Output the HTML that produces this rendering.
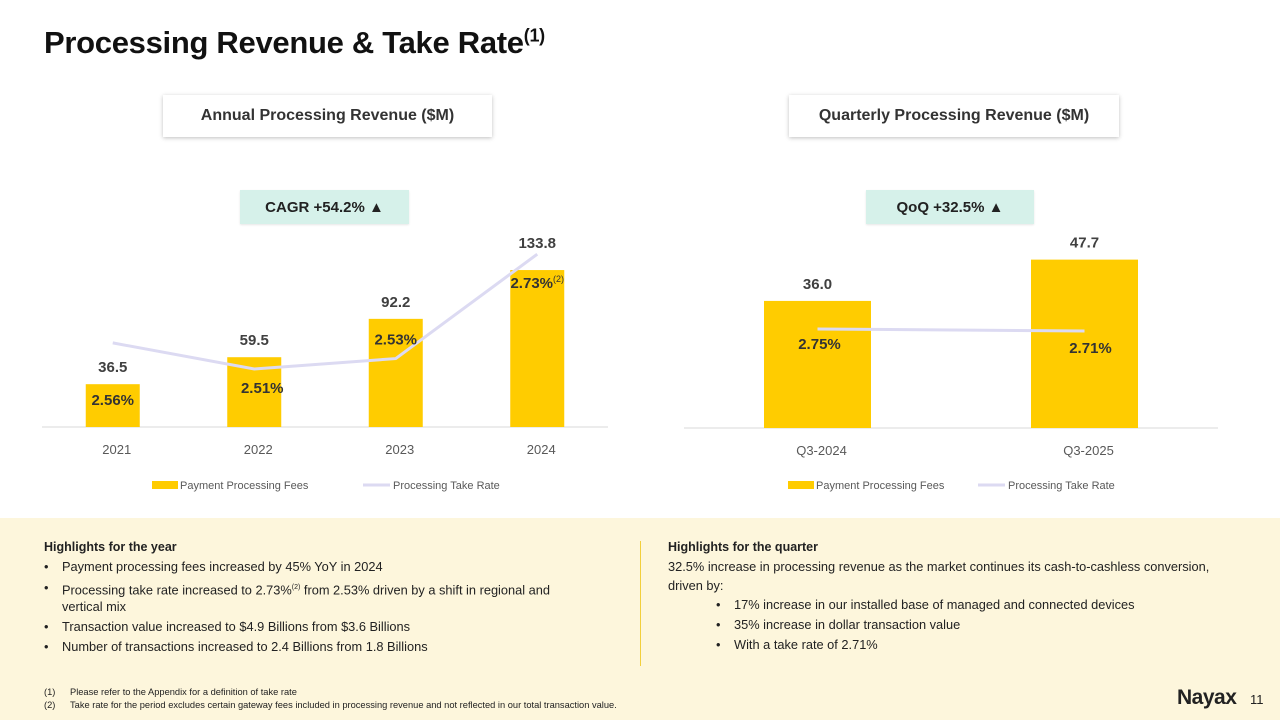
<!DOCTYPE html>
<html><head><meta charset="utf-8">
<style>
body{margin:0;width:1280px;height:720px;overflow:hidden;background:#fff;font-family:"Liberation Sans",sans-serif;position:relative;color:#262626}
.abs{position:absolute}
.title{left:44px;top:25px;font-size:31px;font-weight:bold;color:#111;letter-spacing:-0.3px}
.title sup{font-size:18px}
.sub{background:#fff;box-shadow:0 1px 4px rgba(0,0,0,0.25);font-weight:bold;font-size:16px;color:#333;display:flex;align-items:center;justify-content:center}
.badge{background:#d6f1ea;font-weight:bold;font-size:15px;color:#222;display:flex;align-items:center;justify-content:center;box-shadow:0 1px 2px rgba(0,0,0,0.1)}
.panel{left:0;top:518px;width:1280px;height:202px;background:#fdf6dc}
.hl{font-size:12.8px;line-height:20px;color:#222}
.hl b{font-size:12.5px}
.hl ul{margin:0;padding:0 0 0 18px;list-style:none}
.hl li{position:relative}
.hl li:before{content:"•";position:absolute;left:-18px}
.fn{font-size:9.3px;color:#222;line-height:13px}
.fn span{display:inline-block;width:26px}
</style></head><body>
<div class="abs title">Processing Revenue &amp; Take Rate<sup>(1)</sup></div>
<div class="abs sub" style="left:163px;top:95px;width:329px;height:42px">Annual Processing Revenue ($M)</div>
<div class="abs sub" style="left:789px;top:95px;width:330px;height:42px">Quarterly Processing Revenue ($M)</div>
<div class="abs badge" style="left:240px;top:190px;width:169px;height:34px">CAGR +54.2% ▲</div>
<div class="abs badge" style="left:866px;top:190px;width:168px;height:34px">QoQ +32.5% ▲</div>

<svg class="abs" style="left:0;top:0" width="1280" height="518">
<g id="left"></g>
<g id="right"></g>
</svg>

<div class="abs panel"></div>
<div class="abs hl" style="left:44px;top:537px;width:540px">
<b>Highlights for the year</b>
<ul>
<li>Payment processing fees increased by 45% YoY in 2024</li>
<li style="line-height:17px;padding:2px 0">Processing take rate increased to 2.73%<sup style="font-size:7px">(2)</sup> from 2.53% driven by a shift in regional and vertical mix</li>
<li>Transaction value increased to $4.9 Billions from $3.6 Billions</li>
<li>Number of transactions increased to 2.4 Billions from 1.8 Billions</li>
</ul></div>
<div class="abs" style="left:640px;top:541px;width:1px;height:125px;background:#f2cf3c"></div>
<div class="abs hl" style="left:668px;top:537px;width:575px">
<b>Highlights for the quarter</b>
<div style="line-height:19px">32.5% increase in processing revenue as the market continues its cash-to-cashless conversion, driven by:</div>
<ul style="padding-left:66px">
<li>17% increase in our installed base of managed and connected devices</li>
<li>35% increase in dollar transaction value</li>
<li>With a take rate of 2.71%</li>
</ul></div>
<div class="abs fn" style="left:44px;top:686px">
<div><span>(1)</span>Please refer to the Appendix for a definition of take rate</div>
<div><span>(2)</span>Take rate for the period excludes certain gateway fees included in processing revenue and not reflected in our total transaction value.</div>
</div>
<div class="abs" style="left:1177px;top:686px;font-size:21px;font-weight:bold;color:#222;letter-spacing:-0.5px">Nayax</div>
<div class="abs" style="left:1250px;top:692px;font-size:13px;color:#222">11</div>

<script>
const annualCats=["2021","2022","2023","2024"];
const annualFees=[36.5,59.5,92.2,133.8];
const annualRate=[2.56,2.51,2.53,2.73];
const annualRateLabels=["2.56%","2.51%","2.53%","2.73%"];
const quarterCats=["Q3-2024","Q3-2025"];
const quarterFees=[36.0,47.7];
const quarterRate=[2.75,2.71];
const quarterRateLabels=["2.75%","2.71%"];
const NS="http://www.w3.org/2000/svg";
function mk(p,t,a,txt){const e=document.createElementNS(NS,t);for(const k in a)e.setAttribute(k,a[k]);if(txt!==undefined)e.textContent=txt;p.appendChild(e);return e;}
function chart(g,cfg){
  const n=cfg.cats.length,step=(cfg.x1-cfg.x0)/n;
  const xc=i=>cfg.x0+step*(i+0.5);
  const yb=v=>cfg.base-v*cfg.bs;
  const yr=v=>cfg.rBase-(v-cfg.rMin)*cfg.rs;
  const ax=mk(g,'line',{x1:cfg.x0,x2:cfg.x1,y1:cfg.base,y2:cfg.base,stroke:'#d9d9d9','stroke-width':1});
  
  cfg.fees.forEach((v,i)=>{
    const r=mk(g,'rect',{x:xc(i)-cfg.bw/2,y:yb(v),width:cfg.bw,height:v*cfg.bs,fill:'#ffcc00'});
    
    const t=mk(g,'text',{x:xc(i),y:yb(v)-cfg.vo[i],'text-anchor':'middle','font-size':15,'font-weight':'bold',fill:'#404040'},v.toFixed(1));
    
    const c=mk(g,'text',{x:xc(i)+4,y:cfg.base+27,'text-anchor':'middle','font-size':13,fill:'#595959'},cfg.cats[i]);
    
  });
  const pts=cfg.rate.map((v,i)=>xc(i)+','+yr(v)).join(' ');
  const pl=mk(g,'polyline',{points:pts,fill:'none',stroke:'#dcdaf2','stroke-width':3});
  
  cfg.rate.forEach((v,i)=>{
    const t=mk(g,'text',{x:xc(i)+cfg.lo[i],y:yr(v)+cfg.ly[i],'text-anchor':'middle','font-size':15,'font-weight':'bold',fill:'#333'},cfg.rl[i]);
    
    if(cfg.sup&&i===n-1){mk(t,'tspan',{'font-size':9,dy:-6,'font-weight':'normal'},'(2)');}
  });
  const L=cfg.leg;
  const s1=mk(g,'rect',{x:L[0],y:481,width:26,height:8,fill:'#ffcc00'});
  
  const t1=mk(g,'text',{x:L[0]+28,y:489,'font-size':11,fill:'#595959'},'Payment Processing Fees');
  
  const s2=mk(g,'line',{x1:L[1],x2:L[1]+27,y1:485,y2:485,stroke:'#dcdaf2','stroke-width':3});
  
  const t2=mk(g,'text',{x:L[1]+30,y:489,'font-size':11,fill:'#595959'},'Processing Take Rate');
  
}
chart(document.getElementById('left'),{cats:annualCats,fees:annualFees,rate:annualRate,rl:annualRateLabels,
  x0:42,x1:608,base:427,bs:1.173,bw:54,rMin:2.51,rBase:369,rs:522,vo:[12,12,12,22],
  lo:[0,8,0,0],ly:[62,24,-14,34],sup:true,leg:[152,363]});
chart(document.getElementById('right'),{cats:quarterCats,fees:quarterFees,rate:quarterRate,rl:quarterRateLabels,
  x0:684,x1:1218,base:428,bs:3.53,bw:107,rMin:2.71,rBase:331,rs:50,vo:[12,12],
  lo:[2,6],ly:[20,22],sup:false,leg:[788,978]});
</script>
</body></html>
